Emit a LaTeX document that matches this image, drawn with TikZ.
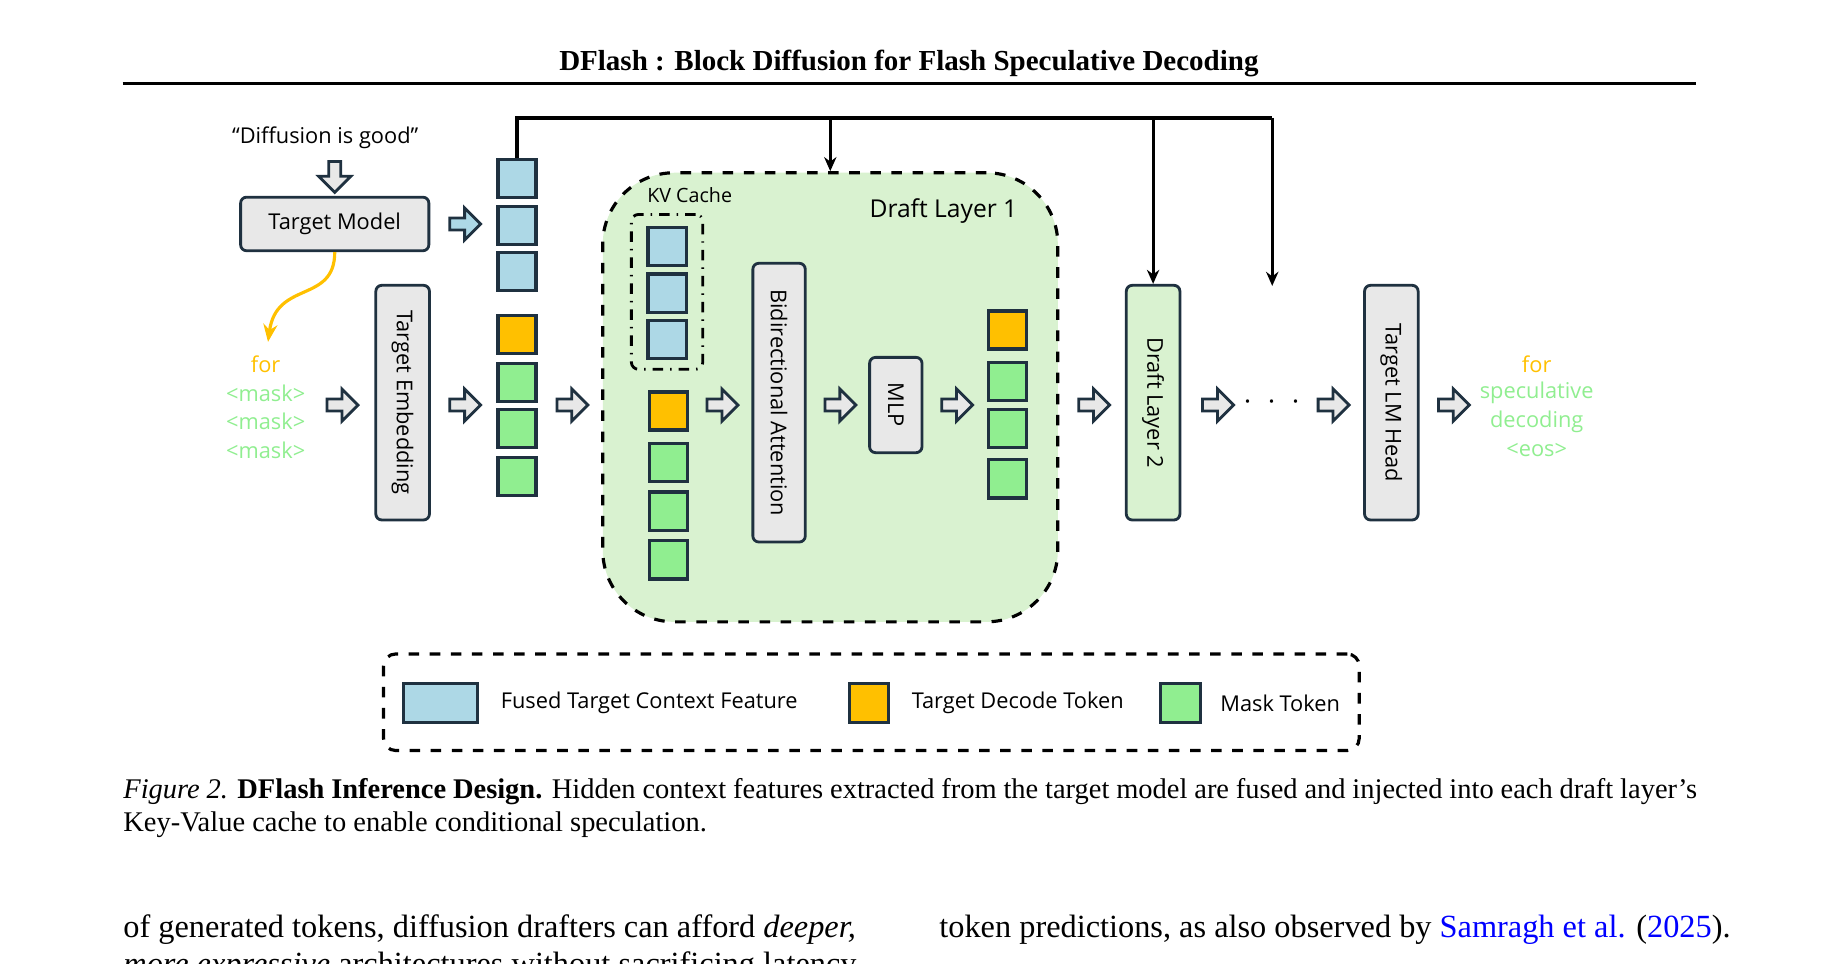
\documentclass[tikz,border=0pt]{standalone}
\usepackage{fontspec}
\setmainfont{Liberation Serif}
\newfontfamily\figfont{Open Sans}
\usetikzlibrary{shapes.arrows,arrows.meta}
\definecolor{ctxblue}{HTML}{ADD8E6}
\definecolor{decorange}{HTML}{FFC000}
\definecolor{maskgreen}{HTML}{90EE90}
\definecolor{layergreen}{HTML}{D9F2D0}
\definecolor{boxgray}{HTML}{E8E8E8}
\definecolor{arrowline}{HTML}{1F3140}
\definecolor{linkblue}{HTML}{0000FF}
\def\pu{0.1191mm}
\newcommand{\FigText}[1]{{\figfont\fontsize{6.2}{7.5}\selectfont #1}}

\tikzset{
  tok/.style={draw=arrowline, line width=0.9pt, minimum size=32*\pu, inner sep=0pt},
  ctx/.style={tok, fill=ctxblue},
  dec/.style={tok, fill=decorange},
  msk/.style={tok, fill=maskgreen},
  blk/.style={single arrow, draw=arrowline, line width=0.8pt, fill=boxgray,
    minimum width=27*\pu, minimum height=26*\pu, single arrow head extend=7*\pu, inner sep=3*\pu},
  module/.style={draw=arrowline, line width=0.8pt, fill=boxgray, rounded corners=5*\pu,
    inner sep=0pt, font=\figfont\fontsize{6.2}{7.5}\selectfont},
  feed/.style={line width=0.9pt, -{Stealth[length=4pt,width=3.5pt]}},
}

\begin{document}
\begin{tikzpicture}[x=\pu, y=-\pu]
  \useasboundingbox (0,0) rectangle (1548,809);

  % header
  \node (title) at (763,53) {\fontsize{8.25}{10}\selectfont\bfseries DFlash : Block Diffusion for Flash Speculative Decoding};
  \draw[line width=0.9pt] (103,70) -- (1424,70);

  % input side
  \node (prompt) at (273,116) {\FigText{“Diffusion is good”}};
  \node[blk, shape border rotate=270] (a0) at (281,146) {};
  \node[module, minimum width=158*\pu, minimum height=45*\pu] (tm) at (281,188) {Target Model};
  \node[blk, fill=ctxblue] (a1) at (388,188) {};
  \foreach \y [count=\i] in {150,189,228} \node[ctx] (c\i) at (434,\y) {};
  \node[dec] (t0) at (434,281) {};
  \foreach \y [count=\i] in {321,360,400} \node[msk] (t\i) at (434,\y) {};

  \node[text=decorange] (for1) at (223,306) {\FigText{for}};
  \foreach \y [count=\i] in {330,354,378} \node[text=maskgreen] (m\i) at (223,\y) {\FigText{<mask>}};
  \draw[decorange, line width=0.9pt, -{Stealth[length=5pt,width=4pt]}] (tm.south) .. controls (281,255) and (232,235) .. (225,287);

  \node[blk] (a2) at (285,340) {};
  \node[module, rotate=-90, minimum width=197*\pu, minimum height=45*\pu] (emb) at (338,338) {Target Embedding};
  \node[blk] (a3) at (388,340) {};
  \node[blk] (a4) at (478,340) {};

  % draft layer 1
  \node[draw, dashed, line width=0.9pt, fill=layergreen, rounded corners=60*\pu,
    minimum width=382*\pu, minimum height=377*\pu] (dl1) at (697,333.5) {};
  \node (dl1t) at (792,177) {\FigText{\fontsize{7}{8}\selectfont Draft Layer 1}};
  \node (kvt) at (579,164) {\FigText{\fontsize{5.6}{7}\selectfont KV Cache}};
  \node[draw, dash dot, line width=0.8pt, rounded corners=6*\pu, minimum width=60*\pu, minimum height=130*\pu] (kv) at (560,245) {};
  \foreach \y [count=\i] in {207,246,285} \node[ctx] (k\i) at (560,\y) {};
  \node[dec] (d0) at (561,345) {};
  \foreach \y [count=\i] in {388,429,470} \node[msk] (d\i) at (561,\y) {};
  \node[blk] (a5) at (604,340) {};
  \node[module, rotate=-90, minimum width=234*\pu, minimum height=44*\pu] (attn) at (654,338) {Bidirectional Attention};
  \node[blk] (a6) at (703,340) {};
  \node[module, rotate=-90, minimum width=80*\pu, minimum height=44*\pu] (mlp) at (752,340) {MLP};
  \node[blk] (a7) at (801,340) {};
  \node[dec] (o0) at (846,277) {};
  \foreach \y [count=\i] in {320,360,402} \node[msk] (o\i) at (846,\y) {};
  \node[blk] (a8) at (916,340) {};

  % later layers
  \node[module, fill=layergreen, rotate=-90, minimum width=197*\pu, minimum height=45*\pu] (dl2) at (968,338) {Draft Layer 2};
  \node[blk] (a9) at (1020,340) {};
  \node (dots) at (1068,338) {\fontsize{9}{10}\selectfont$\cdot\ \cdot\ \cdot$};
  \node[blk] (a10) at (1117,340) {};
  \node[module, rotate=-90, minimum width=197*\pu, minimum height=45*\pu] (lmh) at (1168,338) {Target LM Head};
  \node[blk] (a11) at (1218,340) {};
  \node[text=decorange] (for2) at (1290,306) {\FigText{for}};
  \node[text=maskgreen] (o1t) at (1290,330) {\FigText{speculative}};
  \node[text=maskgreen] (o2t) at (1290,354) {\FigText{decoding}};
  \node[text=maskgreen] (o3t) at (1290,378) {\FigText{<eos>}};

  % context injection
  \coordinate (top0) at (434,99);
  \coordinate (top1) at (697,99);
  \coordinate (top2) at (968,99);
  \coordinate (top3) at (1068,99);
  \coordinate (end3) at (1068,240);
  \draw[line width=0.9pt] (c1.north) -- (top0) -- (top3);
  \draw[feed] (top1) -- (dl1.north);
  \draw[feed] (top2) -- (dl2.west);
  \draw[feed] (top3) -- (end3);

  % legend
  \node[draw, dashed, line width=0.9pt, rounded corners=10*\pu, minimum width=819*\pu, minimum height=81*\pu] (leg) at (731.5,589.5) {};
  \node[ctx, minimum width=62*\pu, minimum height=33*\pu] (lc) at (370,590) {};
  \node[anchor=west] (lct) at (410,590) {\FigText{Fused Target Context Feature}};
  \node[dec, minimum size=33*\pu] (ld) at (729.5,590) {};
  \node[anchor=west] (ldt) at (755,590) {\FigText{Target Decode Token}};
  \node[msk, minimum size=33*\pu] (lm) at (991,590) {};
  \node[anchor=west] (lmt) at (1014,590) {\FigText{Mask Token}};

  % caption and text
  \node[anchor=north west, inner sep=0pt, text width=1321*\pu, align=justify,
    font=\fontsize{8.1}{9.3}\selectfont] (cap) at (103,653)
    {\textit{Figure 2.} \textbf{DFlash Inference Design.} Hidden context features extracted from the target model are fused and injected into each draft layer's Key-Value cache to enable conditional speculation.};
  \node[anchor=base west, inner sep=0pt] (l1) at (103,787) {\fontsize{9.2}{10}\selectfont of generated tokens, diffusion drafters can afford \textit{deeper,}};
  \node[anchor=base west, inner sep=0pt] (l2) at (103,818) {\fontsize{9.2}{10}\selectfont \textit{more expressive} architectures without sacrificing latency.};
  \node[anchor=base west, inner sep=0pt] (r1) at (788,787) {\fontsize{9.2}{10}\selectfont token predictions, as also observed by \textcolor{linkblue}{Samragh et al.} (\textcolor{linkblue}{2025}).};
\end{tikzpicture}
\end{document}
